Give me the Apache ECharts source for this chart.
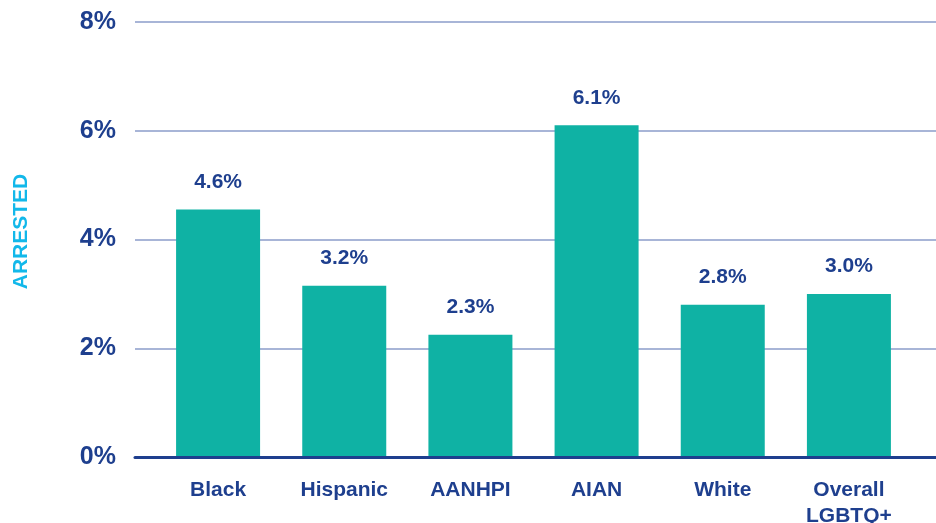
<!DOCTYPE html>
<html>
<head>
<meta charset="utf-8">
<script src="https://cdn.jsdelivr.net/npm/echarts@6/dist/echarts.min.js"></script>
<style>
  html, body { margin: 0; padding: 0; background: #ffffff; }
  #chart { width: 936px; height: 523px; }
</style>
</head>
<body>
<div id="chart"></div>
<script>
const categories = ['Black', 'Hispanic', 'AANHPI', 'AIAN', 'White', 'Overall\nLGBTQ+'];
const arrested = [4.55, 3.15, 2.25, 6.1, 2.8, 3.0];
const valueLabels = ['4.6%', '3.2%', '2.3%', '6.1%', '2.8%', '3.0%'];
const yTicks = [0, 2, 4, 6, 8];

const navy = '#1e3f8e';
const teal = '#0fb2a4';
const cyan = '#12b8ea';
const gridColor = '#8b9cca';
const fontFamily = 'Liberation Sans, Arial, Helvetica, sans-serif';

const chart = echarts.init(document.getElementById('chart'), null, { renderer: 'canvas' });

chart.setOption({
  backgroundColor: '#ffffff',
  animation: false,
  grid: [
    { left: 135, right: 0, top: 22, bottom: 66, containLabel: false, outerBoundsMode: 'none' },
    { left: 155, right: 24, top: 22, bottom: 66, containLabel: false, outerBoundsMode: 'none' }
  ],
  xAxis: [
    {
      gridIndex: 0,
      type: 'category',
      data: [''],
      axisLine: { show: true, lineStyle: { color: navy, width: 3 } },
      axisTick: { show: false },
      axisLabel: { show: false },
      splitLine: { show: false },
      z: 5
    },
    {
      gridIndex: 1,
      type: 'category',
      data: categories,
      axisLine: { show: false },
      axisTick: { show: false },
      axisLabel: {
        margin: 20,
        color: navy,
        fontFamily: fontFamily,
        fontWeight: 'bold',
        fontSize: 21,
        lineHeight: 26,
        interval: 0
      }
    }
  ],
  yAxis: [
    {
      gridIndex: 0,
      type: 'value',
      min: yTicks[0],
      max: yTicks[yTicks.length - 1],
      interval: yTicks[1] - yTicks[0],
      name: 'ARRESTED',
      nameLocation: 'middle',
      nameRotate: 90,
      nameGap: 103,
      nameTextStyle: {
        color: cyan,
        fontFamily: fontFamily,
        fontWeight: 'bold',
        fontSize: 21,
        padding: [0, 0, 0, 16]
      },
      axisLine: { show: false },
      axisTick: { show: false },
      axisLabel: {
        margin: 19,
        color: navy,
        fontFamily: fontFamily,
        fontWeight: 'bold',
        fontSize: 25,
        padding: [4, 0, 0, 0],
        formatter: '{value}%'
      },
      splitLine: { show: true, lineStyle: { color: gridColor, width: 1.5 } }
    },
    {
      gridIndex: 1,
      type: 'value',
      min: yTicks[0],
      max: yTicks[yTicks.length - 1],
      interval: yTicks[1] - yTicks[0],
      show: false,
      splitLine: { show: false }
    }
  ],
  series: [
    {
      type: 'bar',
      xAxisIndex: 1,
      yAxisIndex: 1,
      data: arrested,
      barWidth: 84,
      itemStyle: { color: teal },
      label: {
        show: true,
        position: 'top',
        distance: 17,
        color: navy,
        fontFamily: fontFamily,
        fontWeight: 'bold',
        fontSize: 21,
        formatter: function (p) { return valueLabels[p.dataIndex]; }
      }
    }
  ]
});
</script>
</body>
</html>
